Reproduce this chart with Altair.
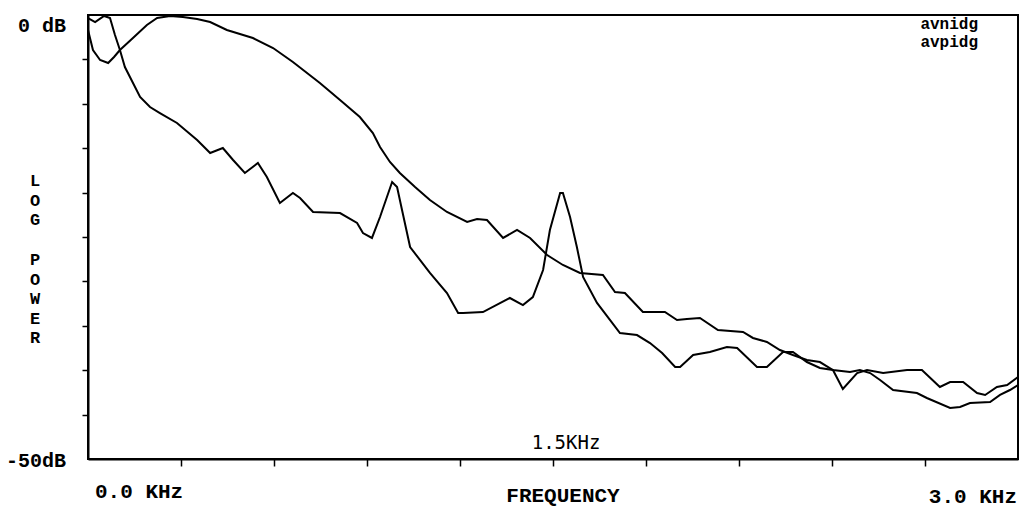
import altair as alt
import pandas as pd

# Averaged log power spectra, frequency in kHz and level in dB
freq_avnidg = [0.000, 0.016, 0.039, 0.065, 0.084, 0.103, 0.145, 0.190, 0.223, 0.265,
               0.306, 0.352, 0.394, 0.448, 0.532, 0.597, 0.661, 0.748, 0.813, 0.877,
               0.919, 0.942, 0.974, 1.006, 1.055, 1.103, 1.158, 1.223, 1.255, 1.287,
               1.339, 1.384, 1.426, 1.481, 1.532, 1.587, 1.661, 1.700, 1.732, 1.790,
               1.861, 1.900, 1.932, 1.974, 2.032, 2.113, 2.145, 2.190, 2.232, 2.274,
               2.319, 2.361, 2.403, 2.458, 2.490, 2.523, 2.555, 2.597, 2.674, 2.706,
               2.781, 2.813, 2.845, 2.910, 2.942, 2.974, 3.000]
db_avnidg = [-1.69, -3.94, -5.07, -5.41, -4.73, -3.94, -2.59, -1.13, -0.34, -0.11,
             -0.23, -0.45, -0.79, -1.69, -2.59, -3.72, -5.29, -7.66, -9.57, -11.49,
             -13.29, -14.86, -16.55, -17.79, -19.37, -20.83, -22.18, -23.31, -22.97, -23.09,
             -25.11, -24.21, -25.11, -27.03, -28.15, -29.05, -29.28, -31.19, -31.31, -33.45,
             -33.45, -34.35, -34.23, -34.12, -35.47, -35.70, -36.37, -36.82, -37.73, -38.29,
             -38.85, -39.08, -39.98, -40.20, -39.98, -40.32, -41.10, -42.23, -42.57, -43.13,
             -44.26, -44.14, -43.69, -43.58, -42.79, -42.23, -41.67]

freq_avpidg = [0.000, 0.023, 0.052, 0.071, 0.087, 0.103, 0.119, 0.168, 0.200, 0.232,
               0.287, 0.352, 0.394, 0.435, 0.468, 0.506, 0.548, 0.577, 0.619, 0.661,
               0.684, 0.726, 0.813, 0.868, 0.887, 0.916, 0.942, 0.981, 0.997, 1.013,
               1.039, 1.103, 1.158, 1.194, 1.210, 1.274, 1.361, 1.403, 1.435, 1.468,
               1.490, 1.523, 1.532, 1.555, 1.577, 1.597, 1.642, 1.716, 1.771, 1.813,
               1.852, 1.894, 1.910, 1.952, 2.006, 2.061, 2.094, 2.158, 2.190, 2.242,
               2.274, 2.319, 2.361, 2.403, 2.435, 2.481, 2.513, 2.565, 2.642, 2.690,
               2.748, 2.781, 2.823, 2.868, 2.894, 2.932, 2.965, 3.000]
db_avpidg = [-0.34, -0.79, -0.11, -0.34, -2.25, -3.94, -5.86, -9.23, -10.36, -11.04,
             -12.16, -14.08, -15.54, -14.98, -16.33, -17.79, -16.67, -18.24, -21.17, -20.05,
             -20.61, -22.18, -22.30, -23.42, -24.55, -25.11, -22.75, -18.81, -19.37, -21.96,
             -26.13, -29.05, -31.31, -33.56, -33.56, -33.45, -31.87, -32.66, -31.76, -28.72,
             -24.21, -20.05, -20.05, -22.75, -26.13, -29.50, -32.43, -35.81, -36.04, -36.94,
             -38.06, -39.64, -39.64, -38.29, -37.95, -37.39, -37.50, -39.64, -39.64, -37.95,
             -37.95, -39.08, -39.75, -39.98, -42.12, -40.32, -39.98, -40.32, -39.98, -39.98,
             -41.89, -41.33, -41.33, -42.57, -42.79, -41.89, -41.67, -40.77]

series_names = ["avnidg", "avpidg"]
freq_ticks = [0.3, 0.6, 0.9, 1.2, 1.5, 1.8, 2.1, 2.4, 2.7]
db_ticks = [-45, -40, -35, -30, -25, -20, -15, -10, -5]

spectra = pd.concat([
    pd.DataFrame({"freq": freq_avnidg, "db": db_avnidg, "series": series_names[0]}),
    pd.DataFrame({"freq": freq_avpidg, "db": db_avpidg, "series": series_names[1]}),
])

W, H = 930, 444
FONT = "Liberation Mono"

lines = alt.Chart(spectra).mark_line(color="black", strokeWidth=2).encode(
    x=alt.X("freq:Q", scale=alt.Scale(domain=[0, 3], nice=False, zero=False),
            axis=alt.Axis(values=freq_ticks, labels=False, title=None, grid=False,
                          domainColor="black", domainWidth=2, tickColor="black",
                          tickSize=7, tickWidth=1.5)),
    y=alt.Y("db:Q", scale=alt.Scale(domain=[-50, 0], nice=False, zero=False),
            axis=alt.Axis(values=db_ticks, labels=False, title=None, grid=False,
                          domainColor="black", domainWidth=2, tickColor="black",
                          tickSize=6, tickWidth=1.5)),
    detail="series:N",
)


def label(text, x, y, align="left", size=20, weight="bold", font=FONT,
          baseline="middle", **kw):
    return alt.Chart(pd.DataFrame({"t": [text]})).mark_text(
        align=align, baseline=baseline, font=font, fontSize=size,
        fontWeight=weight, color="black", **kw
    ).encode(x=alt.value(x), y=alt.value(y), text="t:N")


def stacked(word, x, y_top):
    # letters of a word written one under another
    return alt.Chart(pd.DataFrame({"t": [word]})).mark_text(
        text=list(word), align="center", baseline="top", font=FONT,
        fontSize=17, fontWeight="bold", lineHeight=19.5, color="black"
    ).encode(x=alt.value(x), y=alt.value(y_top))


texts = [
    label("0 dB", -70, 11),
    label("-50dB", -82, 446),
    label("0.0 KHz", 7, 477, size=21),
    label("FREQUENCY", 475, 481, align="center", size=21),
    label("3.0 KHz", 929, 482, align="right", size=21),
    label("1.5KHz", 478, 428, align="center", size=19, weight="normal",
          font="DejaVu Sans Mono"),
    label(series_names[0], 890, 9, align="right", size=16),
    label(series_names[1], 890, 27, align="right", size=16),
    stacked("LOG", -53, 158),
    stacked("POWER", -53, 237),
]

chart = alt.layer(lines, *texts).properties(
    width=W, height=H,
    autosize=alt.AutoSizeParams(type="none"),
    padding={"left": 88, "top": 15, "right": 5, "bottom": 50},
    background="white",
).configure_view(stroke="black", strokeWidth=2)

chart.save("out.html", embed_options={"renderer": "svg", "actions": False})
